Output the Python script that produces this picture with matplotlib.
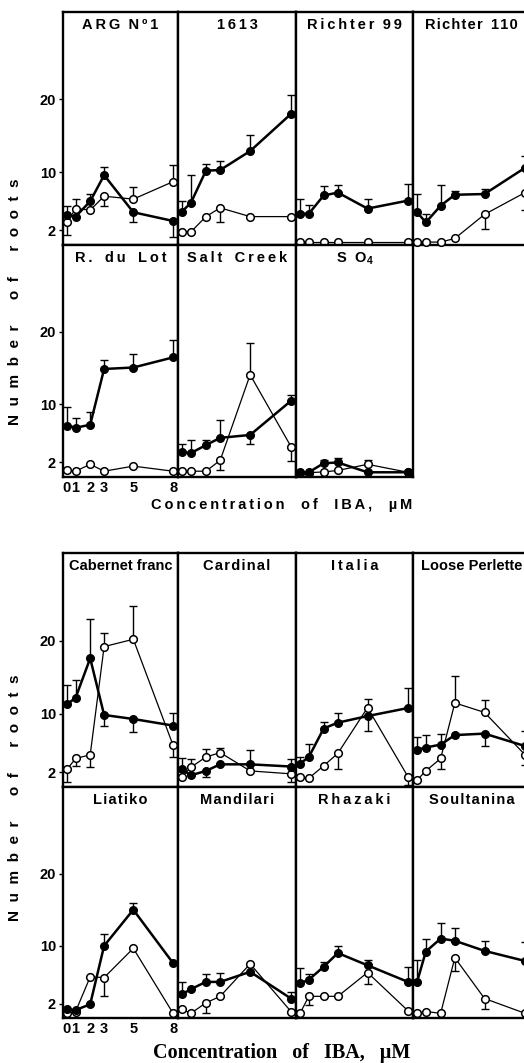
import matplotlib
matplotlib.use('Agg')
import matplotlib.pyplot as plt

plt.rcParams['font.family'] = ['Liberation Sans', 'DejaVu Sans']
plt.rcParams['font.weight'] = 'bold'
plt.rcParams['mathtext.fontset'] = 'custom'
plt.rcParams['mathtext.bf'] = 'Liberation Sans:bold'
plt.rcParams['mathtext.rm'] = 'Liberation Sans:bold'

# IBA concentration (uM) - x positions as drawn, with their labels
conc = [0, 0.65, 1.75, 2.8, 5, 8]
conc_labels = ['0', '1', '2', '3', '5', '8']
y_ticks = [2, 10, 20]

# signed error: > 0 bar drawn upward, < 0 downward, 0 none
arg_filled = [4.1, 3.9, 6.0, 9.6, 4.5, 3.3]
arg_filled_err = [1.3, 0, 1.0, 1.1, -1.3, -2.2]
arg_open = [3.1, 5.0, 4.8, 6.7, 6.3, 8.7]
arg_open_err = [-1.7, 1.3, 0, -1.3, 1.7, 2.3]

r1613_filled = [4.6, 5.8, 10.2, 10.3, 12.9, 18.0]
r1613_filled_err = [1.4, 3.8, 0.9, 1.3, 2.2, 2.6]
r1613_open = [1.8, 1.8, 3.9, 5.1, 3.9, 3.9]
r1613_open_err = [0, 0, 0, -1.9, 0, 0]

r99_filled = [4.3, 4.3, 6.8, 7.2, 5.0, 6.1]
r99_filled_err = [2.0, 1.2, 1.3, 1.1, 1.3, 2.3]
r99_open = [0.4, 0.4, 0.4, 0.4, 0.4, 0.4]
r99_open_err = [0, 0, 0, 0, 0, 0]

r110_filled = [4.5, 3.1, 5.4, 6.9, 7.0, 10.6]
r110_filled_err = [2.5, 1.2, 2.8, 0.5, 0.7, 1.6]
r110_open = [0.4, 0.4, 0.4, 0.9, 4.2, 7.2]
r110_open_err = [0, 0, 0, 0, -2.0, -2.4]

lot_filled = [7.1, 6.8, 7.2, 14.9, 15.1, 16.5]
lot_filled_err = [2.6, 1.3, 1.7, 1.2, 1.9, 2.4]
lot_open = [1.0, 0.8, 1.75, 0.8, 1.5, 0.8]
lot_open_err = [0, 0, 0, 0, 0, 0]

salt_filled = [3.4, 3.3, 4.4, 5.4, 5.8, 10.5]
salt_filled_err = [1.2, 1.8, 0.7, 2.5, -1.2, 0.8]
salt_open = [0.8, 0.8, 0.8, 2.3, 14.1, 4.2]
salt_open_err = [0, 0, 0, -1.3, 4.4, -2.0]

so4_filled = [0.65, 0.65, 1.9, 2.0, 0.65, 0.65]
so4_filled_err = [0, 0, 0.4, 0.6, 0, 0]
so4_open = [0.6, 0.6, 0.7, 0.9, 1.75, 0.65]
so4_open_err = [0, 0, 0, 0, 0.6, 0]

cab_filled = [11.3, 12.2, 17.6, 9.85, 9.3, 8.4]
cab_filled_err = [2.7, 2.5, 5.4, -1.45, -1.8, 1.7]
cab_open = [2.4, 3.9, 4.4, 19.2, 20.2, 5.7]
cab_open_err = [-1.7, -1.0, -1.6, 1.9, 4.6, -1.6]

card_filled = [2.4, 1.6, 2.2, 3.1, 3.1, 2.8]
card_filled_err = [1.5, 0, -0.9, 0, 2.0, 1.0]
card_open = [1.4, 2.7, 4.1, 4.7, 2.2, 1.8]
card_open_err = [0, 1.1, 1.1, 0.6, 0, -1.1]

ita_filled = [3.2, 4.1, 8.0, 8.8, 9.7, 10.8]
ita_filled_err = [0.9, 1.8, 0.9, 1.3, -2.1, 2.7]
ita_open = [1.4, 1.2, 2.9, 4.6, 10.85, 1.4]
ita_open_err = [0, 0, 0, -2.2, 1.25, -1.1]

loose_filled = [5.1, 5.4, 5.8, 7.1, 7.3, 5.6]
loose_filled_err = [1.8, 1.7, 1.5, 0, -1.7, 2.0]
loose_open = [0.95, 2.2, 3.9, 11.5, 10.2, 4.4]
loose_open_err = [0, 0, -1.4, 3.7, 1.7, -1.4]

liat_filled = [1.2, 1.1, 1.9, 10.0, 15.0, 7.6]
liat_filled_err = [0, 0, 0, 1.7, 1.0, 0]
liat_open = [0.65, 0.9, 5.7, 5.6, 9.65, 0.65]
liat_open_err = [0, 0, 0, -2.6, 0, 0]

mand_filled = [3.3, 4.0, 5.0, 5.0, 6.4, 2.7]
mand_filled_err = [1.7, 0, 1.1, 1.3, 1.0, 0.9]
mand_open = [1.2, 0.65, 2.1, 3.0, 7.5, 0.9]
mand_open_err = [0, 0, -1.4, 0, 0, 0]

rhaz_filled = [4.8, 5.3, 7.1, 9.0, 7.3, 5.0]
rhaz_filled_err = [2.1, 0.8, 0.7, 1.0, 0.8, 2.1]
rhaz_open = [0.65, 3.0, 3.0, 3.0, 6.3, 1.0]
rhaz_open_err = [0, -1.2, 0, 0, -1.6, 0]

soul_filled = [5.0, 9.2, 11.0, 10.7, 9.3, 7.9]
soul_filled_err = [3.0, 1.8, 2.1, 1.8, 1.4, 2.6]
soul_open = [0.65, 0.9, 0.65, 8.35, 2.7, 0.65]
soul_open_err = [0, 0, 0, -1.85, -1.4, 0]

W, H = 524, 1063
fig = plt.figure(figsize=(W / 100, H / 100), dpi=100)

col_edges = [63, 178, 296, 413, 530]
top_rows = [12, 245, 477]
bot_rows = [553, 787, 1018]

THIN = '\u2009'
HAIR = '\u200a'


def spaced(s, gap=THIN, word_gap=' '):
    # letter-spaced text, like the lettering in the scan
    return word_gap.join(gap.join(w) for w in s.split(' '))


def add_series(ax, y, err, filled):
    lower = [max(-e, 0) for e in err]
    upper = [max(e, 0) for e in err]
    ax.errorbar(conc, y, yerr=[lower, upper], fmt='none', ecolor='black',
                elinewidth=1.0, capsize=3, capthick=1.0, zorder=2)
    if filled:
        ax.plot(conc, y, '-o', color='black', lw=1.8, ms=5.5,
                mfc='black', mec='black', zorder=4, clip_on=False)
    else:
        ax.plot(conc, y, '-o', color='black', lw=0.9, ms=5.5,
                mfc='white', mec='black', mew=1.1, zorder=3, clip_on=False)


def panel(row, col, rows, title, filled, filled_err, opn, opn_err, xlabels=False):
    x0, x1 = col_edges[col], col_edges[col + 1]
    ytop, ybot = rows[row], rows[row + 1]
    ax = fig.add_axes([x0 / W, 1 - ybot / H, (x1 - x0) / W, (ybot - ytop) / H])
    ax.set_xlim(-0.3, 8.37)
    ax.set_ylim(0, 32)
    for s in ax.spines.values():
        s.set_linewidth(1.7)
    add_series(ax, opn, opn_err, False)
    add_series(ax, filled, filled_err, True)
    ax.text(0.5, 0.975, title, transform=ax.transAxes, ha='center', va='top',
            fontsize=10.5, fontweight='bold')
    if col == 0:
        ax.set_yticks(y_ticks)
        ax.set_yticklabels([str(t) for t in y_ticks], fontsize=10.5, fontweight='bold')
        ax.tick_params(axis='y', direction='out', length=3, width=1, pad=2)
    else:
        ax.set_yticks([])
    if xlabels:
        ax.set_xticks(conc)
        ax.set_xticklabels(conc_labels, fontsize=10.5, fontweight='bold')
        ax.tick_params(axis='x', length=0, pad=3)
    else:
        ax.set_xticks([])
    return ax


# upper group
panel(0, 0, top_rows, spaced('ARG Nº1', THIN, '  '), arg_filled, arg_filled_err, arg_open, arg_open_err)
panel(0, 1, top_rows, spaced('1613', THIN), r1613_filled, r1613_filled_err, r1613_open, r1613_open_err)
panel(0, 2, top_rows, spaced('Richter 99', THIN, '  '), r99_filled, r99_filled_err, r99_open, r99_open_err)
panel(0, 3, top_rows, spaced('Richter 110', HAIR, '  '), r110_filled, r110_filled_err, r110_open, r110_open_err)
panel(1, 0, top_rows, spaced('R. du Lot', THIN, '   '), lot_filled, lot_filled_err, lot_open, lot_open_err, xlabels=True)
panel(1, 1, top_rows, spaced('Salt Creek', THIN, '   '), salt_filled, salt_filled_err, salt_open, salt_open_err)
panel(1, 2, top_rows, 'S' + THIN * 3 + r'O$_{4}$', so4_filled, so4_filled_err, so4_open, so4_open_err)

# lower group
panel(0, 0, bot_rows, 'Cabernet franc', cab_filled, cab_filled_err, cab_open, cab_open_err)
panel(0, 1, bot_rows, spaced('Cardinal', HAIR), card_filled, card_filled_err, card_open, card_open_err)
panel(0, 2, bot_rows, spaced('Italia', THIN), ita_filled, ita_filled_err, ita_open, ita_open_err)
panel(0, 3, bot_rows, 'Loose Perlette', loose_filled, loose_filled_err, loose_open, loose_open_err)
panel(1, 0, bot_rows, spaced('Liatiko', HAIR), liat_filled, liat_filled_err, liat_open, liat_open_err, xlabels=True)
panel(1, 1, bot_rows, spaced('Mandilari', HAIR), mand_filled, mand_filled_err, mand_open, mand_open_err)
panel(1, 2, bot_rows, spaced('Rhazaki', THIN), rhaz_filled, rhaz_filled_err, rhaz_open, rhaz_open_err)
panel(1, 3, bot_rows, spaced('Soultanina', HAIR), soul_filled, soul_filled_err, soul_open, soul_open_err)

ylab = 'N  u  m  b  e  r      o  f      r  o  o  t  s'
fig.text(15 / W, 1 - 302 / H, ylab, rotation=90, ha='center', va='center',
         fontsize=11, fontweight='bold')
fig.text(15 / W, 1 - 798 / H, ylab, rotation=90, ha='center', va='center',
         fontsize=11, fontweight='bold')

fig.text(282 / W, 1 - 505 / H, spaced('Concentration of IBA, µM', THIN, '    '),
         ha='center', va='center', fontsize=10.5, fontweight='bold')
fig.text(282 / W, 1 - 1053 / H, 'Concentration   of   IBA,   µM', ha='center', va='center',
         fontsize=14.5, fontweight='bold', family=['Liberation Serif', 'DejaVu Serif'])

fig.savefig('out.png', dpi=100)
